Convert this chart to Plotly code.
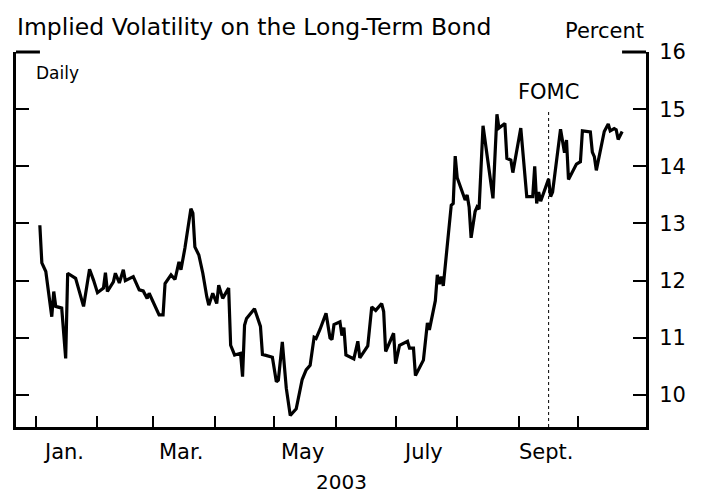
import plotly.graph_objects as go

# daily implied volatility, percent
dates = [
    "2003-01-03", "2003-01-04", "2003-01-06", "2003-01-09", "2003-01-10", "2003-01-11",
    "2003-01-14", "2003-01-16", "2003-01-17", "2003-01-21", "2003-01-25", "2003-01-28",
    "2003-01-30", "2003-02-01", "2003-02-04", "2003-02-05", "2003-02-06", "2003-02-09",
    "2003-02-10", "2003-02-12", "2003-02-14", "2003-02-15", "2003-02-19", "2003-02-22",
    "2003-02-24", "2003-02-26", "2003-02-27", "2003-03-02", "2003-03-04", "2003-03-06",
    "2003-03-07", "2003-03-10", "2003-03-12", "2003-03-14", "2003-03-15", "2003-03-17",
    "2003-03-18", "2003-03-20", "2003-03-21", "2003-03-22", "2003-03-24", "2003-03-26",
    "2003-03-28", "2003-03-29", "2003-03-31", "2003-04-02", "2003-04-03", "2003-04-05",
    "2003-04-08", "2003-04-09", "2003-04-11", "2003-04-14", "2003-04-15", "2003-04-16",
    "2003-04-17", "2003-04-21", "2003-04-24", "2003-04-25", "2003-04-30", "2003-05-02",
    "2003-05-03", "2003-05-05", "2003-05-07", "2003-05-09", "2003-05-12", "2003-05-14",
    "2003-05-15", "2003-05-17", "2003-05-19", "2003-05-21", "2003-05-22", "2003-05-24",
    "2003-05-27", "2003-05-29", "2003-05-30", "2003-05-31", "2003-06-03", "2003-06-04",
    "2003-06-05", "2003-06-06", "2003-06-10", "2003-06-12", "2003-06-13", "2003-06-17",
    "2003-06-19", "2003-06-21", "2003-06-24", "2003-06-25", "2003-06-26", "2003-06-30",
    "2003-07-01", "2003-07-03", "2003-07-07", "2003-07-08", "2003-07-10", "2003-07-11",
    "2003-07-15", "2003-07-17", "2003-07-18", "2003-07-21", "2003-07-22", "2003-07-23",
    "2003-07-24", "2003-07-25", "2003-07-29", "2003-07-30", "2003-07-31", "2003-08-01",
    "2003-08-04", "2003-08-05", "2003-08-06", "2003-08-07", "2003-08-08", "2003-08-10",
    "2003-08-11", "2003-08-12", "2003-08-14", "2003-08-19", "2003-08-21", "2003-08-22",
    "2003-08-25", "2003-08-26", "2003-08-28", "2003-08-29", "2003-09-02", "2003-09-05",
    "2003-09-08", "2003-09-09", "2003-09-10", "2003-09-11", "2003-09-12", "2003-09-16",
    "2003-09-17", "2003-09-18", "2003-09-22", "2003-09-23", "2003-09-24", "2003-09-25",
    "2003-09-26", "2003-09-30", "2003-10-02", "2003-10-03", "2003-10-07", "2003-10-08",
    "2003-10-09", "2003-10-10", "2003-10-14", "2003-10-16", "2003-10-17", "2003-10-19",
    "2003-10-20", "2003-10-21", "2003-10-22", "2003-10-23",
]
vol = [
    12.97, 12.31, 12.16, 11.37, 11.81, 11.55,
    11.52, 10.64, 12.13, 12.04, 11.55, 12.20,
    12.01, 11.79, 11.87, 12.14, 11.81, 11.98,
    12.13, 11.96, 12.19, 12.00, 12.07, 11.84,
    11.82, 11.69, 11.78, 11.57, 11.40, 11.40,
    11.95, 12.10, 12.02, 12.33, 12.19, 12.57,
    12.80, 13.26, 13.18, 12.59, 12.45, 12.13,
    11.72, 11.57, 11.78, 11.60, 11.92, 11.69,
    11.87, 10.87, 10.70, 10.73, 10.32, 11.22,
    11.34, 11.51, 11.20, 10.71, 10.66, 10.23,
    10.26, 10.93, 10.12, 9.64, 9.76, 10.15,
    10.27, 10.44, 10.52, 11.01, 10.99, 11.15,
    11.43, 11.00, 10.97, 11.23, 11.28, 11.04,
    11.18, 10.70, 10.63, 10.94, 10.65, 10.86,
    11.54, 11.48, 11.60, 11.46, 10.76, 11.08,
    10.55, 10.87, 10.94, 10.82, 10.82, 10.34,
    10.61, 11.26, 11.14, 11.65, 12.10, 11.94,
    12.07, 11.91, 13.32, 13.35, 14.18, 13.80,
    13.52, 13.41, 13.50, 13.29, 12.75, 13.21,
    13.29, 13.25, 14.71, 13.44, 14.91, 14.67,
    14.75, 14.14, 14.11, 13.89, 14.67, 13.47,
    13.47, 14.00, 13.35, 13.55, 13.39, 13.78,
    13.47, 13.55, 14.65, 14.46, 14.24, 14.46,
    13.77, 14.04, 14.08, 14.62, 14.60, 14.25,
    14.17, 13.93, 14.61, 14.74, 14.62, 14.66,
    14.64, 14.47, 14.55, 14.61,
]

month_starts = ["2003-%02d-01" % m for m in range(1, 11)]
label_dates = ["2003-01-15", "2003-03-15", "2003-05-15", "2003-07-15", "2003-09-15"]
label_text = ["Jan.", "Mar.", "May", "July", "Sept."]
fomc_date = "2003-09-16"
y_ticks = [10, 11, 12, 13, 14, 15, 16]

FONT = "DejaVu Sans"

fig = go.Figure(
    go.Scatter(
        x=dates, y=vol,
        mode="lines",
        line=dict(color="black", width=3.2),
        hoverinfo="x+y",
    )
)

# page body has an 8px margin, so the figure is sized to fit inside it
fig.update_layout(
    width=699, height=485,
    margin=dict(l=5, r=61, t=44, b=66),
    paper_bgcolor="white", plot_bgcolor="white",
    showlegend=False,
    font=dict(family=FONT, size=21, color="black"),
    xaxis=dict(
        type="date",
        range=["2002-12-22", "2003-11-04"],
        tickmode="array", tickvals=month_starts,
        showticklabels=False,
        ticks="inside", ticklen=11, tickwidth=2, tickcolor="black",
        showline=True, linewidth=3, linecolor="black",
        showgrid=False, zeroline=False,
    ),
    yaxis=dict(
        range=[9.44, 16],
        side="right",
        tickmode="array", tickvals=y_ticks,
        ticks="inside", ticklen=13, tickwidth=2, tickcolor="black",
        ticklabelstandoff=6,
        tickfont=dict(family=FONT, size=21),
        showline=True, linewidth=3, linecolor="black", mirror="ticks",
        showgrid=False, zeroline=False,
    ),
)

# longer corner ticks at the top of the frame
fig.add_shape(type="line", xref="paper", yref="paper", x0=0, x1=0.038, y0=1, y1=1,
              line=dict(color="black", width=3))
fig.add_shape(type="line", xref="paper", yref="paper", x0=0.962, x1=1, y0=1, y1=1,
              line=dict(color="black", width=3))

# FOMC marker
fig.add_shape(type="line", xref="x", yref="paper", x0=fomc_date, x1=fomc_date, y0=0, y1=0.84,
              line=dict(color="black", width=1, dash="dot"))
fig.add_annotation(x=fomc_date, y=0.893, xref="x", yref="paper", text="FOMC",
                   showarrow=False, xanchor="center", yanchor="middle", font=dict(size=21))

# month labels centred in the month
for d, t in zip(label_dates, label_text):
    fig.add_annotation(x=d, y=-0.067, xref="x", yref="paper", text=t,
                       showarrow=False, xanchor="center", yanchor="middle", font=dict(size=21))

fig.add_annotation(x=0.516, y=-0.146, xref="paper", yref="paper", text="2003",
                   showarrow=False, xanchor="center", yanchor="middle", font=dict(size=20))
fig.add_annotation(x=-0.002, y=1.067, xref="paper", yref="paper",
                   text="Implied Volatility on the Long-Term Bond",
                   showarrow=False, xanchor="left", yanchor="middle", font=dict(size=23.5))
fig.add_annotation(x=1.0, y=1.056, xref="paper", yref="paper", text="Percent",
                   showarrow=False, xanchor="right", yanchor="middle", font=dict(size=21))
fig.add_annotation(x=0.028, y=0.944, xref="paper", yref="paper", text="Daily",
                   showarrow=False, xanchor="left", yanchor="middle", font=dict(size=17))

fig.write_html("out.html")
